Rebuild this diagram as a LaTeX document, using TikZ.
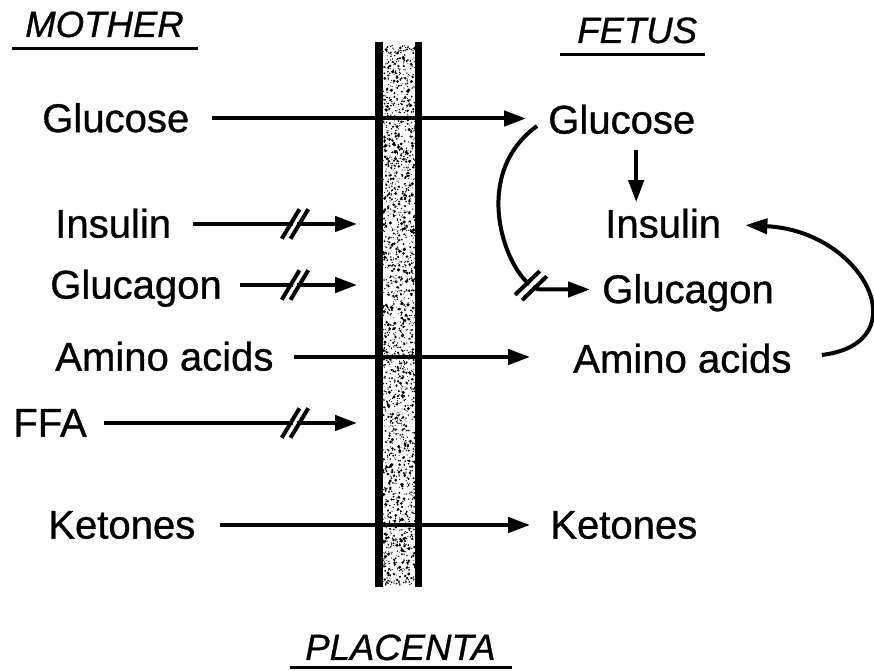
\documentclass[tikz,border=0pt]{standalone}
\usepackage{fontspec}
\setmainfont{Liberation Sans}[FakeBold=0.8]
\usetikzlibrary{positioning, calc, decorations.markings, arrows.meta}

\tikzset{
  lbl/.style={anchor=west, inner sep=0pt, text height=0.88cm, text depth=0.2cm},
  head/.style={anchor=base west, inner sep=0pt, font=\fontsize{26}{30}\selectfont\itshape},
  flow/.style={line width=0.1cm, -{Triangle[length=0.55cm,width=0.38cm]},
    shorten <=0.55cm, shorten >=0.55cm},
  blocked/.style 2 args={postaction={decorate}, decoration={markings,
    mark=at position #1 with {
      \draw[-, white, line width=0.13cm, shorten <=0pt, shorten >=0pt] (-0.05,0) -- (0.05,0);
      \draw[-, line width=0.1cm, shorten <=0pt, shorten >=0pt]
        (-0.11,0) ++(#2+180:0.43) -- ++(#2:0.86)
        (0.11,0) ++(#2+180:0.43) -- ++(#2:0.86);}}},
  wall/.style={line width=0.18cm},
  uline/.style={line width=0.075cm}
}

\begin{document}
\begin{tikzpicture}[every node/.style={font=\fontsize{28.5}{33}\selectfont}]
\useasboundingbox (0,0) rectangle (21.85,16.775);

% placenta: speckled band between two walls
\pgfmathsetseed{42}
\foreach \k in {1,...,2000}
  \fill ({9.58+0.8*rnd},{2.15+13.5*rnd}) circle ({0.012+0.035*rnd*rnd});
\draw[wall] (9.475,2.1) -- (9.475,15.725);
\draw[wall] (10.46,2.1) -- (10.46,15.725);
\coordinate (plL) at (9.475,0);

% headings
\node[head] (mother)   at (0.625,15.85) {MOTHER};
\node[head] (fetus)    at (14.425,15.7) {FETUS};
\node[head] (placenta) at (7.625,0.275) {PLACENTA};
\draw[uline] ([shift={(-0.33,-0.3)}]mother.base west) -- ([shift={(0.35,-0.3)}]mother.base east);
\draw[uline] ([shift={(-0.42,-0.28)}]fetus.base west) -- ([shift={(0.2,-0.28)}]fetus.base east);
\draw[uline] ([shift={(-0.38,-0.2)}]placenta.base west) -- ([shift={(0.4,-0.2)}]placenta.base east);

% mother side
\node[lbl] (mglu) at (1.05,13.8125) {Glucose};
\node[lbl] (mins) at (1.375,11.175) {Insulin};
\node[lbl] (mgcg) at (1.25,9.65)    {Glucagon};
\node[lbl] (mami) at (1.375,7.85)   {Amino acids};
\node[lbl] (mffa) at (0.325,6.2)    {FFA};
\node[lbl] (mket) at (1.2,3.65)     {Ketones};

% fetus side
\node[lbl] (fglu) at (13.7,13.775)  {Glucose};
\node[lbl] (fins) at (15.125,11.175) {Insulin};
\node[lbl] (fgcg) at (15.05,9.5375) {Glucagon};
\node[lbl] (fami) at (14.325,7.8)   {Amino acids};
\node[lbl] (fket) at (13.75,3.65)   {Ketones};

% across the placenta
\draw[flow, shorten <=0.55cm] (mglu.east) -- (mglu.east -| fglu.west);
\draw[flow, blocked={-2.1cm}{59}] (mins.east) -- (mins.east -| plL);
\draw[flow, shorten <=0.45cm, blocked={-2.1cm}{59}] (mgcg.east) -- (mgcg.east -| plL);
\draw[flow, shorten <=0.5cm, shorten >=1.075cm] (mami.east) -- (mami.east -| fami.west);
\draw[flow, shorten <=0.42cm, blocked={-2.1cm}{59}] (mffa.east) -- (mffa.east -| plL);
\draw[flow, shorten <=0.6cm, shorten >=0.5cm] (mket.east) -- (mket.east -| fket.west);

% fetal regulation
\draw[flow, shorten <=0.2cm, shorten >=0pt] ([xshift=0.36cm]fglu.south) -- ([xshift=0.36cm]fglu.south |- fins.north);
\draw[flow, blocked={-1.8cm}{80}, shorten <=0pt, shorten >=0.3cm]
  ([shift={(-0.275,-0.15)}]fglu.west) .. controls (11.6,12.3) and (12.8,9.6) .. (13.5,9.5375) -- (fgcg.west);
\draw[flow, shorten <=0pt, shorten >=0.6cm]
  ([shift={(0.75,0.1)}]fami.east) .. controls (23.0,8.2) and (21.6,11.0) .. (fins.east);

\end{tikzpicture}
\end{document}
